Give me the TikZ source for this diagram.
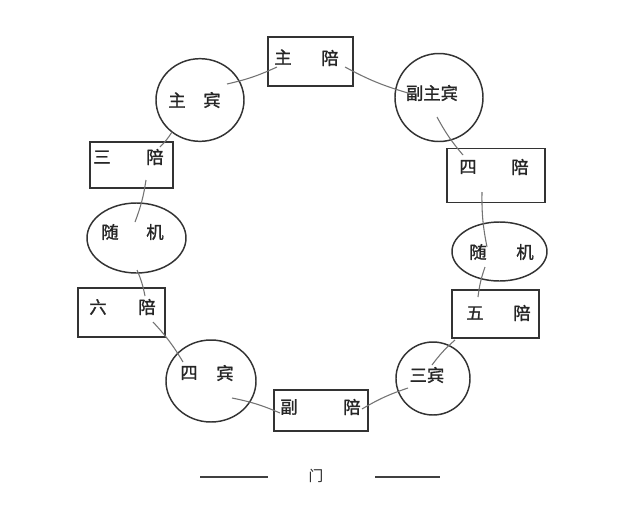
\documentclass[tikz,border=0pt]{standalone}
\usepackage{fontspec}
\setmainfont{Noto Sans CJK SC}
\newfontfamily\cjkbold{Noto Sans CJK SC}[FakeBold=1.2]
\usetikzlibrary{shapes.geometric,calc}

\tikzset{every picture/.style={line width=0.75pt}}
\tikzset{
  seat/.style={draw=black!80,line width=1.1pt,rectangle,inner sep=0pt},
  guest/.style={draw=black!80,line width=1.1pt,ellipse,inner sep=0pt},
  link/.style={draw=black!55,line width=0.8pt,bend left=6},
  label/.style={inner sep=0.75pt,font=\cjkbold\fontsize{13}{14}\selectfont,text=black!85}
}

\begin{document}
\begin{tikzpicture}[x=0.75pt,y=0.75pt,yscale=-1,xscale=1]
\useasboundingbox[fill=white] (0,0) rectangle (640,515);

%Rect [id:zhupei]
\node [seat,minimum width=63.75pt,minimum height=36.75pt] (zp) at (310.5,61.5) {};
%Circle [id:zhubin]
\node [guest,minimum width=66pt,minimum height=62pt] (zb) at (200,100) {};
%Circle [id:fuzhubin]
\node [guest,minimum width=66pt,minimum height=66pt] (fzb) at (439,97.5) {};
%Rect [id:sanpei]
\node [seat,minimum width=62.25pt,minimum height=34.5pt] (sp3) at (131.5,165) {};
%Rect [id:sipei]
\node [seat,minimum width=73.5pt,minimum height=40.5pt] (sp4) at (496,175.5) {};
%Ellipse [id:suijiL]
\node [guest,minimum width=74.25pt,minimum height=52.5pt] (sjL) at (136.5,238) {};
%Ellipse [id:suijiR]
\node [guest,minimum width=71.25pt,minimum height=44.25pt] (sjR) at (499.5,251.5) {};
%Rect [id:liupei]
\node [seat,minimum width=65.25pt,minimum height=36.75pt] (lp) at (121.5,312.5) {};
%Rect [id:wupei]
\node [seat,minimum width=65.25pt,minimum height=36pt] (wp) at (495.5,314) {};
%Circle [id:sibin]
\node [guest,minimum width=67.5pt,minimum height=61.5pt] (sb4) at (211,381) {};
%Circle [id:sanbin]
\node [guest,minimum width=55.5pt,minimum height=54.75pt] (sb3) at (433,378.5) {};
%Rect [id:fupei]
\node [seat,minimum width=70.5pt,minimum height=30.75pt] (fp) at (321,410.5) {};

% Connectors (ring)
\draw [link] ($(zb)+(27,-16)$) to ($(zp)+(-33.5,5.5)$);
\draw [link] ($(zp)+(34.5,5.5)$) to ($(fzb)+(-31,-4.5)$);
\draw [link] ($(fzb)+(-2,19.5)$) to ($(sp4)+(-33,-20.5)$);
\draw [link] ($(sp4)+(-14,16.5)$) to ($(sjR)+(-12.5,-4.5)$);
\draw [link] ($(sjR)+(-14.5,15.5)$) to ($(wp)+(-17.5,-17)$);
\draw [link] ($(wp)+(-40.5,26)$) to ($(sb3)+(-1,-13.5)$);
\draw [link] ($(sb3)+(-25,9.5)$) to ($(fp)+(41,-1.5)$);
\draw [link] ($(fp)+(-41,2.5)$) to ($(sb4)+(21,17)$);
\draw [link] ($(sb4)+(-28,-19)$) to ($(lp)+(31.5,9.5)$);
\draw [link] ($(lp)+(23.5,-16.5)$) to ($(sjL)+(0.5,32)$);
\draw [link] ($(sjL)+(-1.5,-16)$) to ($(sp3)+(14.5,15)$);
\draw [link] ($(sp3)+(28.5,-18)$) to ($(zb)+(-28,32)$);

% Text Node
\draw (283,57) node [label] (t1) {主};
\draw (330,58) node [label] (t2) {陪};
\draw (177,100) node [label] (t3) {主};
\draw (212,100) node [label] (t4) {宾};
\draw (432,93) node [label] (t5) {副主宾};
\draw (102,157) node [label] (t6) {三};
\draw (155,157) node [label] (t7) {陪};
\draw (468,167) node [label] (t8) {四};
\draw (520,167) node [label] (t9) {陪};
\draw (110,232) node [label] (t10) {随};
\draw (155,232) node [label] (t11) {机};
\draw (478,252) node [label] (t12) {随};
\draw (525,252) node [label] (t13) {机};
\draw (98,307) node [label] (t14) {六};
\draw (147,307) node [label] (t15) {陪};
\draw (475,313) node [label] (t16) {五};
\draw (522,313) node [label] (t17) {陪};
\draw (189,373) node [label] (t18) {四};
\draw (225,373) node [label] (t19) {宾};
\draw (427,375) node [label] (t20) {三宾};
\draw (289,407) node [label] (t21) {副};
\draw (352,407) node [label] (t22) {陪};
\draw (316,476) node [label,font=\fontsize{11}{12}\selectfont] (men) {门};

% Door lines
\draw [black!75,line width=0.8pt] ($(men)+(-116,1)$) -- ($(men)+(-48,1)$);
\draw [black!75,line width=0.8pt] ($(men)+(59,1)$) -- ($(men)+(124,1)$);

\end{tikzpicture}
\end{document}
